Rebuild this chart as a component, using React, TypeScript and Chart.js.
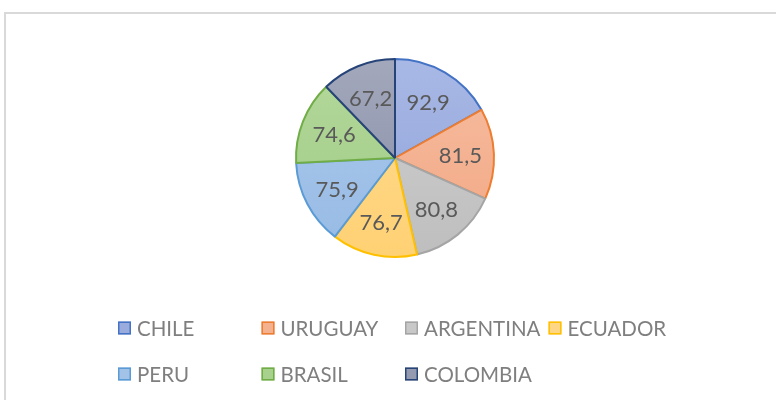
import React, { useEffect, useRef } from "react";
import { Chart, registerables } from "chart.js";

Chart.register(...registerables);

const categories = ["CHILE", "URUGUAY", "ARGENTINA", "ECUADOR", "PERU", "BRASIL", "COLOMBIA"];
const values = [92.9, 81.5, 80.8, 76.7, 75.9, 74.6, 67.2];
const fillTop = ["#A9B9E6", "#F6BEA2", "#D0D0D0", "#FFDB92", "#ABC8EB", "#B5D99D", "#A3A8BC"];
const fillBottom = ["#8DA1D8", "#F2A682", "#BEBEBE", "#FFD174", "#97BBE5", "#9DC981", "#858CA5"];
const borderColors = ["#4472C4", "#ED7D31", "#A5A5A5", "#FFC000", "#5B9BD5", "#70AD47", "#264478"];
const legendSwatch = ["#9AABDD", "#F4B18F", "#C8C8C8", "#FFD683", "#A2C2E8", "#A9D18E", "#949AB0"];

const FONT = "Lato, 'Open Sans', sans-serif";

const sliceLabels = {
  id: "sliceLabels",
  afterDatasetsDraw(chart: any) {
    const ctx = chart.ctx;
    const meta = chart.getDatasetMeta(0);
    ctx.save();
    ctx.font = `22px ${FONT}`;
    ctx.fillStyle = "#595959";
    ctx.textAlign = "center";
    ctx.textBaseline = "middle";
    meta.data.forEach((arc: any, i: number) => {
      const { x, y, startAngle, endAngle, outerRadius } = arc.getProps(
        ["x", "y", "startAngle", "endAngle", "outerRadius"],
        true
      );
      const mid = (startAngle + endAngle) / 2;
      const d = outerRadius * 0.66;
      const v = values[i].toFixed(1).replace(".", ",");
      ctx.fillText(v, x + Math.cos(mid) * d, y + Math.sin(mid) * d + 1);
    });
    ctx.restore();
  },
};

const gridLegend = {
  id: "gridLegend",
  afterDraw(chart: any) {
    const ctx = chart.ctx;
    const startX = 118;
    const colW = 143.5;
    const rowY = [328, 374];
    const perRow = 4;
    ctx.save();
    ctx.font = `20.5px ${FONT}`;
    ctx.textBaseline = "middle";
    ctx.textAlign = "left";
    categories.forEach((name, i) => {
      const col = i % perRow;
      const row = Math.floor(i / perRow);
      const bx = startX + col * colW;
      const cy = rowY[row];
      ctx.fillStyle = legendSwatch[i];
      ctx.fillRect(bx, cy - 6.5, 13, 13);
      ctx.strokeStyle = borderColors[i];
      ctx.lineWidth = 1.5;
      ctx.strokeRect(bx + 0.75, cy - 5.75, 11.5, 11.5);
      ctx.fillStyle = "#7F7F7F";
      ctx.fillText(name, bx + 19, cy + 1);
    });
    ctx.restore();
  },
};

export default function App() {
  const ref = useRef<HTMLCanvasElement | null>(null);
  useEffect(() => {
    if (!ref.current) return;
    const chart = new Chart(ref.current, {
      type: "pie",
      data: {
        labels: categories,
        datasets: [
          {
            data: values,
            backgroundColor: (c: any) => {
              const ch = c.chart;
              const area = ch.chartArea;
              if (!area) return fillTop[c.dataIndex];
              const g = ch.ctx.createLinearGradient(0, area.top, 0, area.bottom);
              g.addColorStop(0, fillTop[c.dataIndex]);
              g.addColorStop(1, fillBottom[c.dataIndex]);
              return g;
            },
            borderColor: borderColors,
            borderWidth: 2,
          },
        ],
      },
      options: {
        animation: false,
        responsive: false,
        layout: { padding: { top: 58, bottom: 142, left: 14, right: 0 } },
        plugins: {
          legend: { display: false },
          tooltip: { enabled: false },
        },
      },
      plugins: [sliceLabels, gridLegend],
    });
    return () => chart.destroy();
  }, []);
  return (
    <div style={{ position: "fixed", left: 0, top: 0, width: 776, height: 400, background: "#fff", overflow: "hidden" }}>
      <div
        style={{
          position: "absolute",
          left: 4,
          top: 12,
          width: 820,
          height: 420,
          border: "2px solid #D9D9D9",
          boxSizing: "border-box",
        }}
      />
      <canvas ref={ref} width={776} height={400} style={{ position: "absolute", left: 0, top: 0 }} />
    </div>
  );
}
